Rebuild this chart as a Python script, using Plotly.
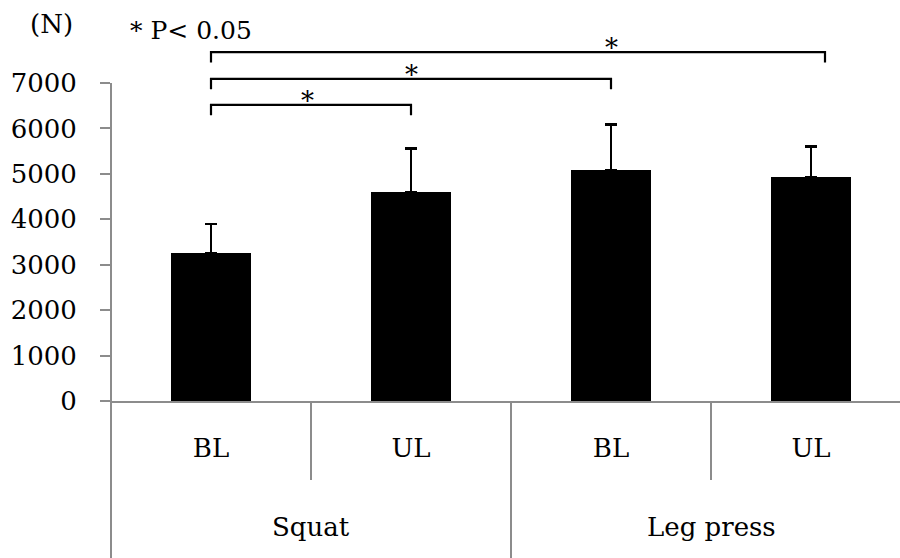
import plotly.graph_objects as go

# Peak force by exercise and loading condition
exercise_groups = ["Squat", "Leg press"]
conditions = ["BL", "UL", "BL", "UL"]
force_mean = [3250, 4600, 5090, 4920]
force_sd = [640, 960, 995, 680]
y_ticks = [0, 1000, 2000, 3000, 4000, 5000, 6000, 7000]

# Significance brackets: start bar, end position, bar level, tip level, star position
bracket_x0 = [0, 0, 0]
bracket_x1 = [1, 2, 3.07]
bracket_level = [6520, 7090, 7680]
bracket_tip = [6290, 6860, 7450]
star_x = [0.48, 1.0, 2.0]

FONT = "DejaVu Serif"
GRAY = "#8c8c8c"
PLOT_W, PLOT_H = 789, 381
x_pos = list(range(len(conditions)))

fig = go.Figure()
fig.add_trace(go.Bar(
    x=x_pos,
    y=force_mean,
    width=0.4,
    marker=dict(color="black", line=dict(width=0)),
    error_y=dict(type="data", array=force_sd, arrayminus=[0] * len(force_sd),
                 symmetric=False, color="black", thickness=2.4, width=6),
    showlegend=False,
))

shapes = []
# left axis line running down through the category table
shapes.append(dict(type="line", xref="paper", yref="paper", x0=0, x1=0,
                   y0=-157 / PLOT_H, y1=318 / PLOT_H, line=dict(color=GRAY, width=2)))
# category dividers
for xv, ybot in [(0.5, -79 / PLOT_H), (1.5, -157 / PLOT_H), (2.5, -79 / PLOT_H)]:
    shapes.append(dict(type="line", xref="x", yref="paper", x0=xv, x1=xv,
                       y0=0, y1=ybot, line=dict(color=GRAY, width=2)))

annotations = []
for x0, x1, lvl, tip, sx in zip(bracket_x0, bracket_x1, bracket_level, bracket_tip, star_x):
    shapes.append(dict(type="path", xref="x", yref="y",
                       path=f"M {x0} {tip} L {x0} {lvl} L {x1} {lvl} L {x1} {tip}",
                       line=dict(color="black", width=2.2)))
    annotations.append(dict(x=sx, y=lvl, xref="x", yref="y", text="*",
                            showarrow=False, yanchor="bottom", yshift=-13,
                            font=dict(family=FONT, size=26, color="black")))

for gx, name in zip([0.5, 2.5], exercise_groups):
    annotations.append(dict(x=gx, y=-126 / PLOT_H, xref="x", yref="paper", text=name,
                            showarrow=False, yanchor="middle",
                            font=dict(family=FONT, size=26, color="black")))

annotations.append(dict(x=(51 - 111) / PLOT_W, y=(401 - 24) / PLOT_H,
                        xref="paper", yref="paper",
                        text="(N)", showarrow=False, xanchor="center", yanchor="middle",
                        font=dict(family=FONT, size=26, color="black")))
annotations.append(dict(x=(128 - 111) / PLOT_W, y=(401 - 31) / PLOT_H,
                        xref="paper", yref="paper",
                        text="* P< 0.05", showarrow=False, xanchor="left", yanchor="middle",
                        font=dict(family=FONT, size=25, color="black")))

fig.update_layout(
    width=900, height=558,
    margin=dict(l=111, r=0, t=20, b=157),
    paper_bgcolor="white", plot_bgcolor="white",
    shapes=shapes, annotations=annotations,
    bargap=0,
)
fig.update_xaxes(
    range=[-0.5, -0.5 + PLOT_W / 200],
    tickvals=x_pos, ticktext=conditions,
    ticks="", showgrid=False, zeroline=False,
    showline=True, linecolor=GRAY, linewidth=2,
    tickfont=dict(family=FONT, size=26, color="black"),
    ticklabelstandoff=23,
)
fig.update_yaxes(
    range=[0, PLOT_H / ((401 - 83) / 7000)],
    tickvals=y_ticks, ticktext=[str(v) for v in y_ticks],
    ticks="outside", ticklen=10, tickwidth=2, tickcolor=GRAY,
    showline=False, showgrid=False, zeroline=False,
    tickfont=dict(family=FONT, size=26, color="black"),
    ticklabelstandoff=18,
)

fig.write_html("out.html")
